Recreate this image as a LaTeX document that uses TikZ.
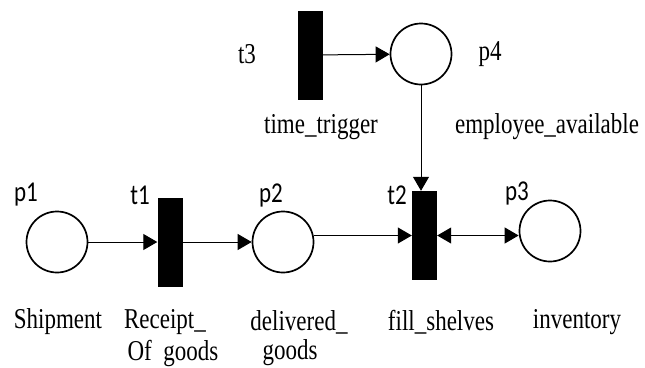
\documentclass[tikz,border=0pt]{standalone}
\usepackage{fontspec}
\setmainfont{Liberation Serif}
\newfontfamily\lblfont{Carlito}
\usetikzlibrary{arrows.meta}
\newcommand{\tallx}[1]{\scalebox{1}[1.25]{#1}}
\tikzset{
  place/.style={circle, draw, line width=1.7pt, minimum size=61pt, inner sep=0pt},
  trans/.style={rectangle, fill=black, minimum width=25pt, minimum height=89pt, inner sep=0pt},
  tip/.style={Triangle[length=14pt,width=16pt]},
  arc/.style={line width=1pt, -{Triangle[length=14pt,width=16pt]}},
  biarc/.style={line width=1pt, {Triangle[length=14pt,width=16pt]}-{Triangle[length=14pt,width=16pt]}},
  plabel/.style={font=\lblfont\fontsize{23}{27}\selectfont, inner sep=0pt},
  slabel/.style={font=\fontsize{23}{27}\selectfont, inner sep=0pt},
}
\begin{document}
\begin{tikzpicture}[x=1pt, y=-1pt]
\useasboundingbox (0,0) rectangle (645,367);
% places and transitions
\node[place] (p1) at (57,242) {};
\node[trans] (t1) at (170,242) {};
\node[place] (p2) at (283,242) {};
\node[trans] (t2) at (424.5,235.5) {};
\node[place] (p3) at (550,231) {};
\node[trans] (t3) at (310,55) {};
\node[place] (p4) at (421,54) {};
% arcs
\draw[arc] (p1) -- (t1);
\draw[arc] (t1) -- (p2);
\draw[arc] (p2.east |- t2) -- (t2.west);
\draw[biarc] (t2.east) -- (t2.east -| p3.west);
\draw[arc] (t3) -- (p4);
\draw[arc] (p4.south) -- (p4.south |- t2.north);
% labels
\node[plabel] (lp1) at (26,195) {\tallx{p1}};
\node[plabel] (lt1) at (140,195) {\tallx{t1}};
\node[plabel] (lp2) at (271,195) {\tallx{p2}};
\node[plabel] (lt2) at (397,195) {\tallx{t2}};
\node[plabel] (lp3) at (517,193) {\tallx{p3}};
\node[slabel] (lt3) at (247,54) {\tallx{t3}};
\node[slabel] (lp4) at (490,54) {\tallx{p4}};
\node[slabel] (ltt) at (321,127) {\tallx{time\_trigger}};
\node[slabel] (lea) at (547,127) {\tallx{employee\_available}};
\node[slabel] (ls) at (58,322) {\tallx{Shipment}};
\node[slabel] (lr1) at (165,322) {\tallx{Receipt\_}};
\node[slabel] (lr2) at (173,353) {\tallx{Of\ \ goods}};
\node[slabel] (ld1) at (299,322) {\tallx{delivered\_}};
\node[slabel] (ld2) at (290,353) {\tallx{goods}};
\node[slabel] (lf) at (441,322) {\tallx{fill\_shelves}};
\node[slabel] (li) at (577,322) {\tallx{inventory}};
\end{tikzpicture}
\end{document}
